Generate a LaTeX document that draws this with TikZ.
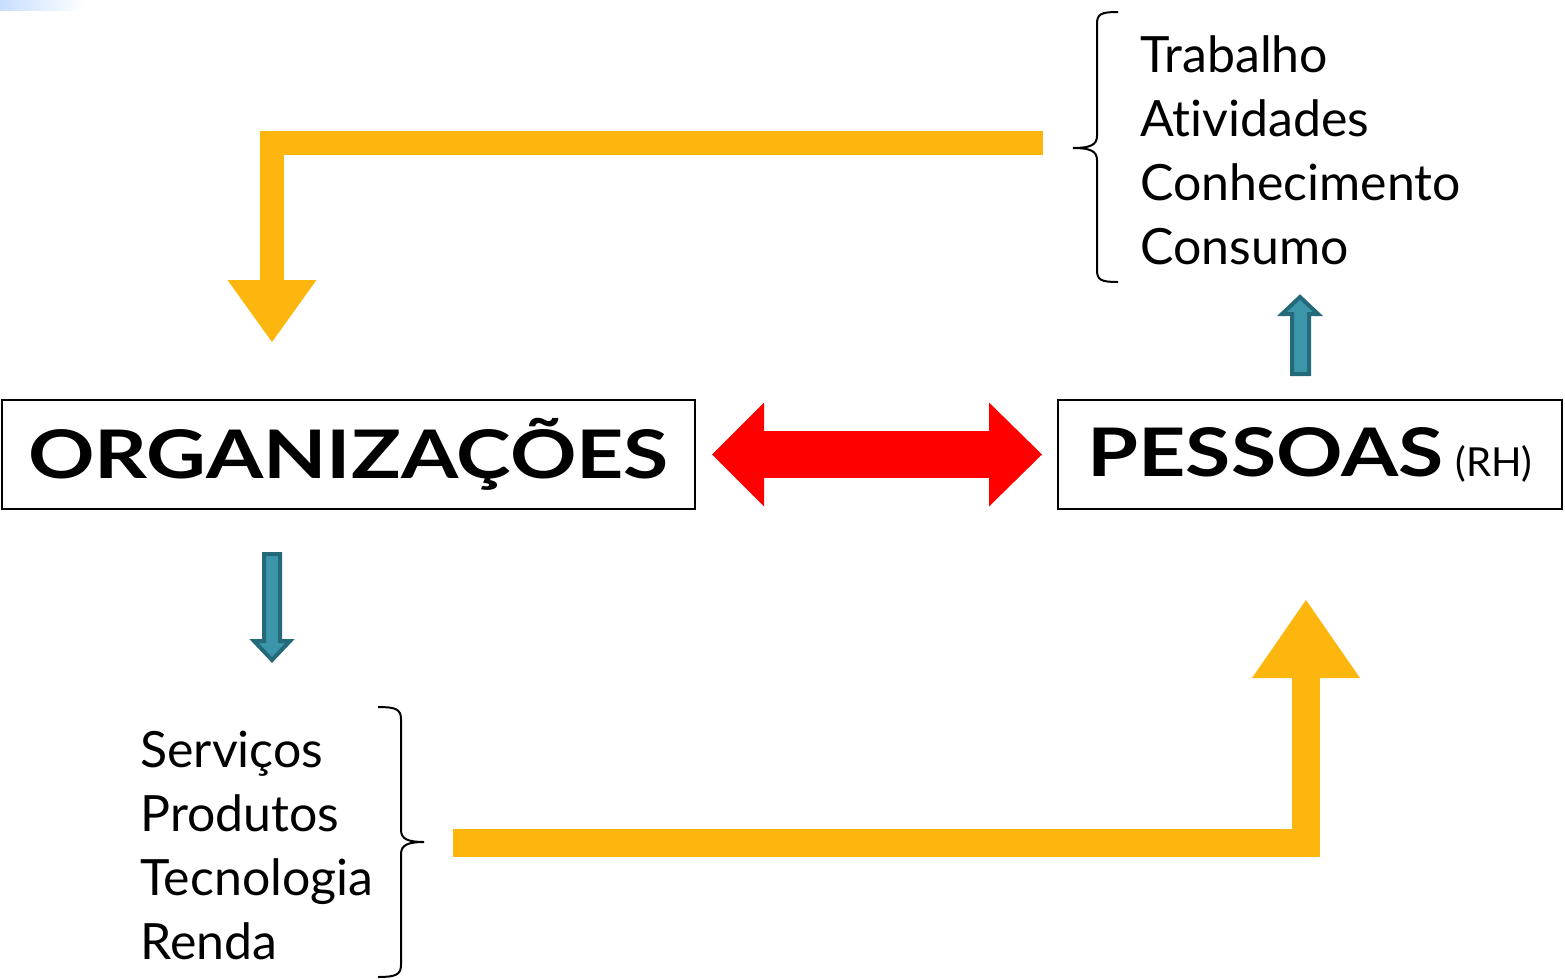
\documentclass[tikz,border=0pt]{standalone}
\usepackage{fontspec}
\setmainfont{Lato}[Ligatures={NoCommon}]
\newfontfamily\widefont[FakeStretch=1.23,Ligatures={NoCommon}]{Lato}
\usepackage{tikz}
\usetikzlibrary{positioning,calc,arrows.meta}
\usepackage{xcolor}

\definecolor{barorange}{RGB}{253,182,14}
\definecolor{tealdark}{RGB}{36,106,122}
\definecolor{teallight}{RGB}{60,150,170}
\definecolor{gradblue}{RGB}{200,222,255}

\tikzset{
  entbox/.style={draw, line width=1pt, minimum height=54.5pt, inner sep=0pt, font=\widefont\bfseries\fontsize{33.5}{36}\selectfont},
  itemtext/.style={anchor=base west, inner sep=0pt, font=\fontsize{25}{30}\selectfont},
  flowarrow/.style={draw=barorange, line join=miter, line cap=butt},
  bothways/.style={draw=red, line width=23.5pt, {Triangle[length=26pt,width=52pt,line width=0pt]}-{Triangle[length=26.5pt,width=52pt,line width=0pt]}},
  tealarrow/.style={draw=tealdark, fill=teallight, line width=2pt, line join=miter},
  bracket/.style={line width=1pt}
}

\begin{document}
\begin{tikzpicture}[x=0.5pt,y=0.5pt,yscale=-1,xscale=1]
\useasboundingbox (0,0) rectangle (1565,980);

%slide corner
\shade [left color=gradblue, right color=white] (0,0) rectangle (85,10);

% Boxes
\node [entbox, minimum width=346.5pt] (org) at (348.5,454.5) {ORGANIZAÇÕES};
\node [entbox, minimum width=252pt] (pes) at (1310,454.5) {PESSOAS\hspace{6pt}{\normalfont\mdseries\fontsize{20}{22}\selectfont(RH)}};

% Red double arrow
\draw [bothways] ($(org.east)+(16,0)$) -- ($(pes.west)+(-15,0)$);

% Top list
\node [itemtext] (trab) at (1140,72) {Trabalho};
\node [itemtext] (ativ) at (1140,136) {Atividades};
\node [itemtext] (conh) at (1140,200) {Conhecimento};
\node [itemtext] (cons) at (1140,264) {Consumo};

% Bottom list
\node [itemtext] (serv) at (140,767) {Serviços};
\node [itemtext] (prod) at (140,831) {Produtos};
\node [itemtext] (tecn) at (140,895) {Tecnologia};
\node [itemtext] (rend) at (140,959) {Renda};

%Brace top
\draw [bracket] (1118,12) .. controls (1101,12) and (1097,14) .. (1097,24) -- (1097,136) .. controls (1097,145) and (1090,148) .. (1073,148) .. controls (1090,148) and (1097,151) .. (1097,160) -- (1097,270) .. controls (1097,280) and (1101,282) .. (1118,282);
%Brace bottom
\draw [bracket] (378,707) .. controls (395,707) and (401,709) .. (401,719) -- (401,830) .. controls (401,839) and (408,842) .. (424,842) .. controls (408,842) and (401,845) .. (401,854) -- (401,965) .. controls (401,975) and (395,977) .. (378,977);

% Orange flows
\coordinate (topstart) at (1043,143);
\coordinate (orgin) at (272,342);
\draw [flowarrow, line width=12pt, -{Triangle[length=31pt,width=44.5pt,line width=0pt]}] (topstart) -| (orgin);
\coordinate (botstart) at (453,842.5);
\coordinate (pesin) at (1306,600);
\draw [flowarrow, line width=14pt, -{Triangle[length=39pt,width=54pt,line width=0pt]}] (botstart) -| (pesin);

%Teal arrows
\draw [tealarrow] (1292,374) -- (1292,314) -- (1282,314) -- (1300,297) -- (1318,314) -- (1309,314) -- (1309,374) -- cycle;
\draw [tealarrow] (264,554) -- (280,554) -- (280,641) -- (290,641) -- (272,660) -- (254,641) -- (264,641) -- cycle;

\end{tikzpicture}
\end{document}
